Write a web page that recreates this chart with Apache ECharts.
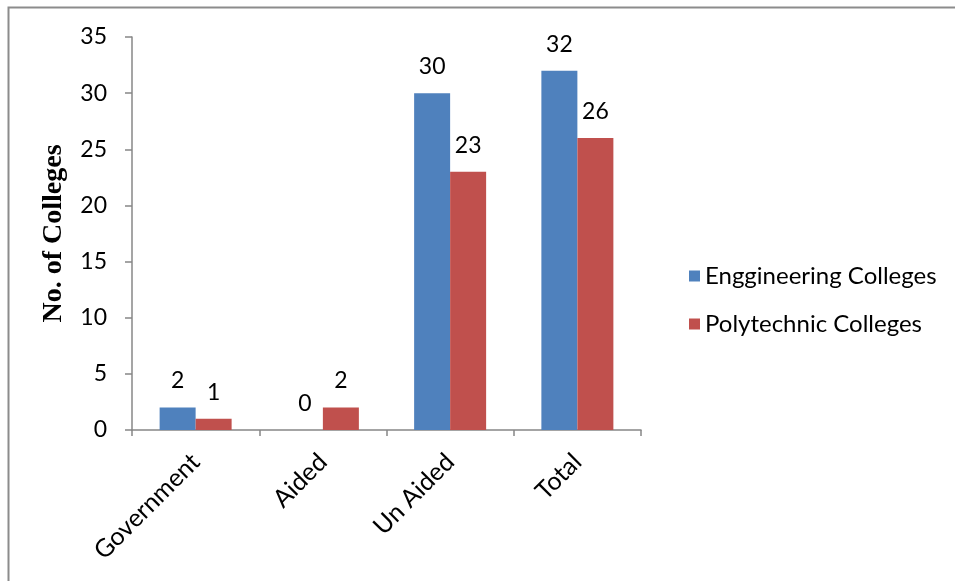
<!DOCTYPE html>
<html>
<head>
<meta charset="utf-8">
<script src="https://cdn.jsdelivr.net/npm/echarts@6/dist/echarts.min.js"></script>
<style>
  html, body { margin: 0; padding: 0; background: #fff; }
  #chart { width: 955px; height: 581px; }
</style>
</head>
<body>
<div id="chart"></div>
<script>
// College counts by management type
const categories = ['Government', 'Aided', 'Un Aided', 'Total'];
const engineeringColleges = [2, 0, 30, 32];
const polytechnicColleges = [1, 2, 23, 26];
const seriesNames = ['Enggineering Colleges', 'Polytechnic Colleges'];

const FONT = 'Lato, "Liberation Sans", sans-serif';
const AXIS_GREY = '#878787';

const chart = echarts.init(document.getElementById('chart'), null, { renderer: 'canvas' });

const labelStyle = {
  show: true,
  position: 'top',
  distance: 15,
  color: '#000',
  fontFamily: FONT,
  fontSize: 23
};

chart.setOption({
  animation: false,
  backgroundColor: '#fff',
  graphic: [{
    type: 'rect',
    shape: { x: 8.5, y: 7.5, width: 1000, height: 1000 },
    style: { fill: 'none', stroke: '#8c8c8c', lineWidth: 2 },
    silent: true
  }],
  grid: { left: 132, top: 37, width: 509, height: 393 },
  legend: {
    orient: 'vertical',
    left: 684,
    top: 257,
    icon: 'rect',
    itemWidth: 11,
    itemHeight: 11,
    itemGap: 20,
    textStyle: { fontFamily: FONT, fontSize: 24, color: '#000', lineHeight: 28 },
    data: seriesNames
  },
  xAxis: {
    type: 'category',
    data: categories,
    axisLine: { lineStyle: { color: AXIS_GREY, width: 1.5 } },
    axisTick: { show: true, length: 6, lineStyle: { color: AXIS_GREY, width: 1.5 } },
    axisLabel: {
      rotate: 45,
      margin: 28,
      color: '#000',
      fontFamily: FONT,
      fontSize: 25
    }
  },
  yAxis: {
    type: 'value',
    min: 0,
    max: 35,
    interval: 5,
    name: 'No. of Colleges',
    nameLocation: 'middle',
    nameGap: 64,
    nameTextStyle: {
      fontFamily: '"Liberation Serif", "DejaVu Serif", serif',
      fontWeight: 'bold',
      fontSize: 28,
      color: '#000'
    },
    axisLine: { show: true, lineStyle: { color: AXIS_GREY, width: 1.5 } },
    axisTick: { show: true, length: 7, lineStyle: { color: AXIS_GREY, width: 1.5 } },
    splitLine: { show: false },
    axisLabel: {
      margin: 25,
      color: '#000',
      fontFamily: FONT,
      fontSize: 23
    }
  },
  series: [
    {
      name: seriesNames[0],
      type: 'bar',
      data: engineeringColleges,
      barWidth: 36,
      barGap: '0%',
      itemStyle: { color: '#4F81BD' },
      label: labelStyle
    },
    {
      name: seriesNames[1],
      type: 'bar',
      data: polytechnicColleges,
      barWidth: 36,
      barGap: '0%',
      itemStyle: { color: '#C0504D' },
      label: labelStyle
    }
  ]
});
</script>
</body>
</html>
